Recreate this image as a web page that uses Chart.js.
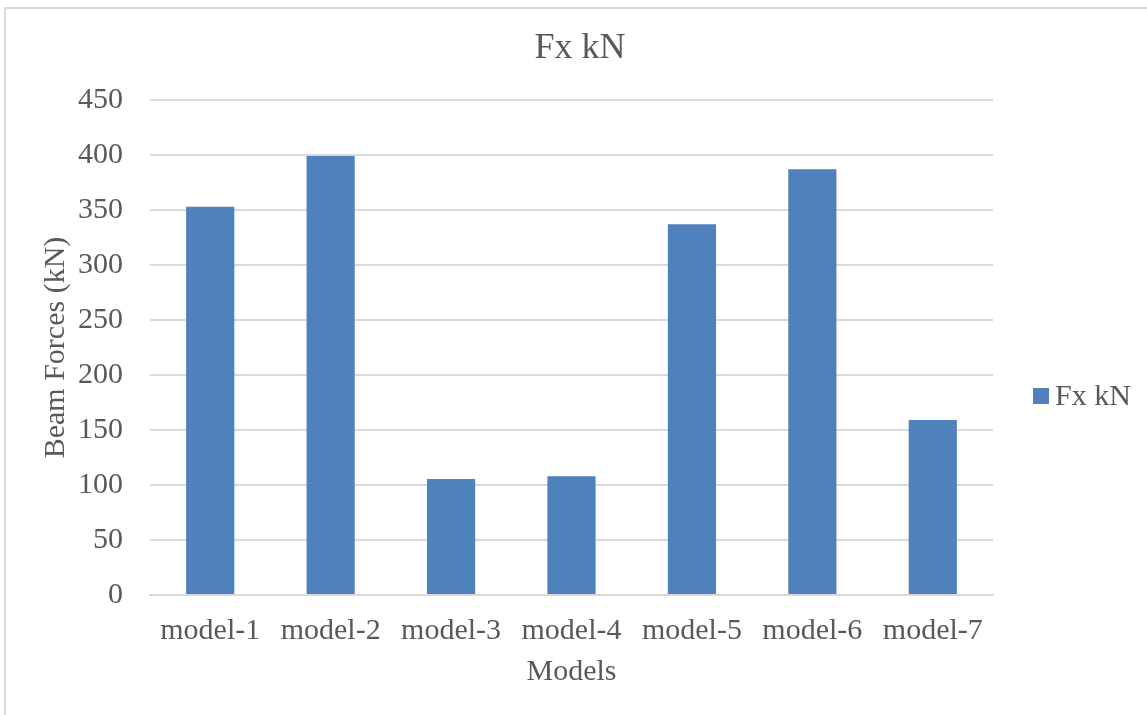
<!DOCTYPE html>
<html>
<head>
<meta charset="utf-8">
<script src="https://cdn.jsdelivr.net/npm/chart.js@4"></script>
<style>
  html, body { margin: 0; padding: 0; background: #fff; overflow: hidden; }
  #marco {
    position: absolute; left: 4px; top: 7px; width: 1200px; height: 800px;
    border: 2px solid #d9d9d9; box-sizing: border-box;
  }
  #grafica { position: absolute; left: 0; top: 0; }
</style>
</head>
<body>
<div id="marco"></div>
<canvas id="grafica" width="1147" height="715"></canvas>
<script>
const modelos = ["model-1", "model-2", "model-3", "model-4", "model-5", "model-6", "model-7"];
const fuerzasFx = [353, 399, 105.5, 108, 337, 387, 159];
const ticksY = [0, 50, 100, 150, 200, 250, 300, 350, 400, 450];

const colorBarra = "#4F81BD";
const colorTexto = "#595959";
const fuente = "'Liberation Serif', 'Times New Roman', serif";

// leyenda a la derecha dibujada a mano para poder fijar el area del grafico
const leyendaDerecha = {
  id: "leyendaDerecha",
  afterDraw(chart) {
    const ctx = chart.ctx;
    const ds = chart.data.datasets[0];
    const yMedio = 396;
    ctx.save();
    ctx.fillStyle = ds.backgroundColor;
    ctx.fillRect(1033, yMedio - 8, 16, 16);
    ctx.fillStyle = colorTexto;
    ctx.font = "30px " + fuente;
    ctx.textBaseline = "middle";
    ctx.textAlign = "left";
    ctx.fillText(ds.label, 1055, yMedio + 1);
    ctx.restore();
  },
};

const $grafica = document.querySelector("#grafica");

new Chart($grafica, {
  type: "bar",
  data: {
    labels: modelos,
    datasets: [
      {
        label: "Fx kN",
        data: fuerzasFx,
        backgroundColor: colorBarra,
        borderWidth: 0,
        categoryPercentage: 1,
        barPercentage: 0.4,
      },
    ],
  },
  options: {
    responsive: false,
    animation: false,
    layout: { padding: { left: 13, right: 0, top: 0, bottom: 0 } },
    scales: {
      x: {
        grid: { display: false, drawTicks: false },
        border: { display: true, color: "#d9d9d9", width: 2 },
        ticks: {
          color: colorTexto,
          padding: 18,
          maxRotation: 0,
          autoSkip: false,
          font: { family: fuente, size: 30 },
        },
        title: {
          display: true,
          text: "Models",
          color: colorTexto,
          font: { family: fuente, size: 30 },
          padding: { top: 0, bottom: 25 },
        },
        afterFit(scale) {
          scale.height = 120;
        },
      },
      y: {
        min: 0,
        max: 450,
        grid: { color: "#d9d9d9", lineWidth: 2, drawTicks: false },
        border: { display: false },
        afterBuildTicks(scale) {
          scale.ticks = ticksY.map((v) => ({ value: v }));
        },
        ticks: {
          color: colorTexto,
          padding: 27,
          font: { family: fuente, size: 30 },
        },
        title: {
          display: true,
          text: "Beam Forces (kN)",
          color: colorTexto,
          font: { family: fuente, size: 30 },
          padding: { top: 25, bottom: 0 },
        },
        afterFit(scale) {
          scale.width = 137;
        },
      },
      // eje vacio a la derecha: deja sitio para la leyenda
      yHueco: {
        position: "right",
        min: 0,
        max: 450,
        grid: { display: false, drawTicks: false },
        border: { display: false },
        ticks: { display: false },
        afterFit(scale) {
          scale.width = 154;
        },
      },
    },
    plugins: {
      legend: { display: false },
      tooltip: { enabled: false },
      title: {
        display: true,
        text: "Fx kN",
        color: colorTexto,
        font: { family: fuente, size: 36, weight: "normal" },
        padding: { top: 27, bottom: 29.8 },
      },
    },
  },
  plugins: [leyendaDerecha],
});
</script>
</body>
</html>
